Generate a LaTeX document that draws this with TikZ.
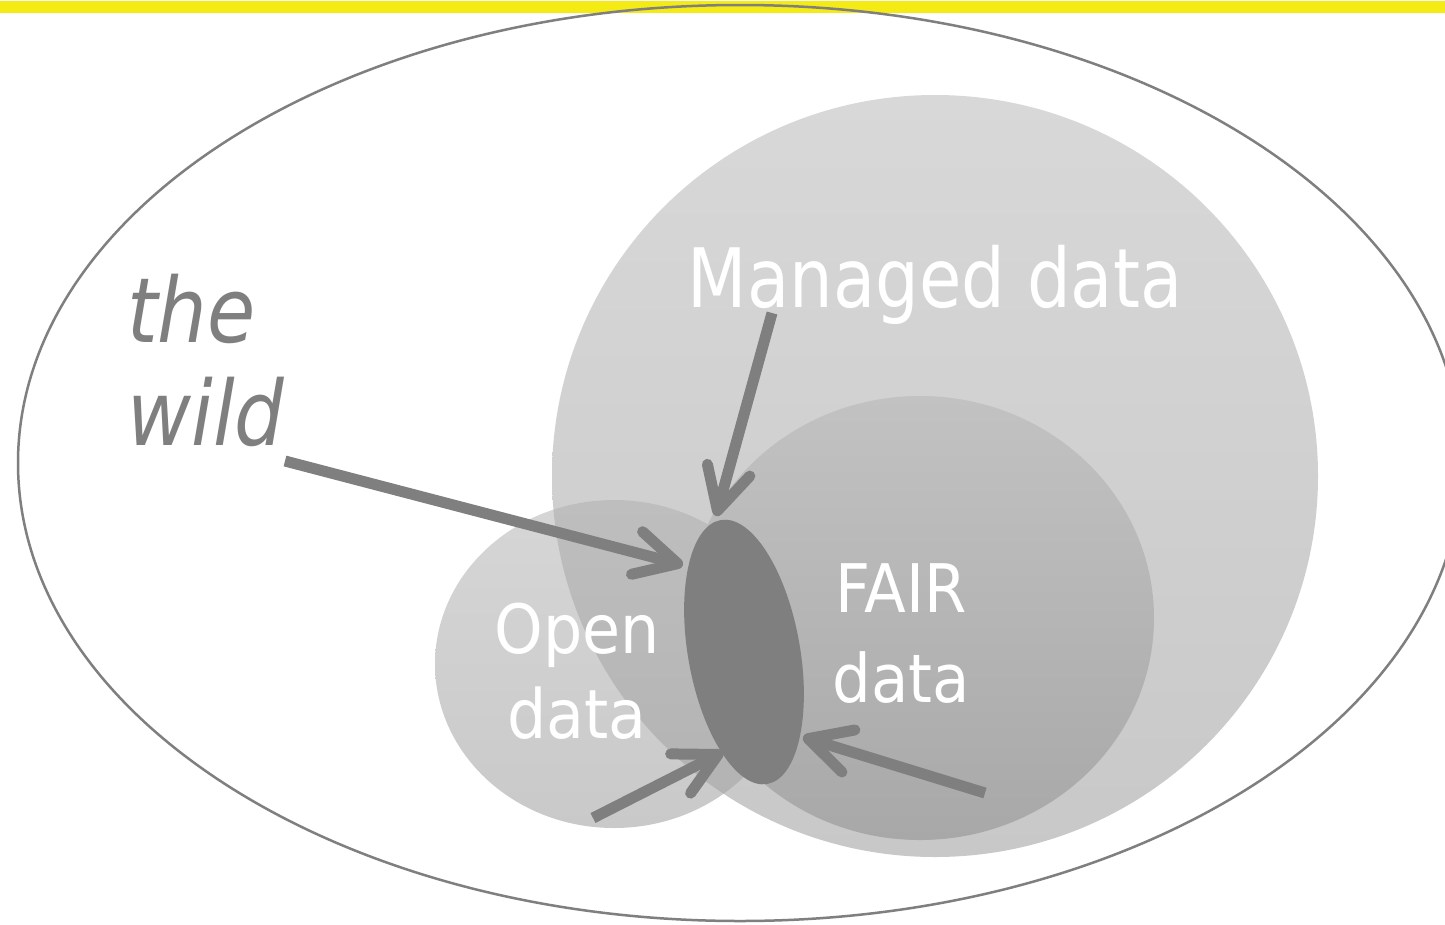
\documentclass[tikz,border=0pt]{standalone}
\usepackage{fontspec}
\usetikzlibrary{arrows.meta,shapes.geometric}
\newfontfamily\bigfont[FakeStretch=0.84]{DejaVu Sans}
\newfontfamily\labfont[FakeStretch=0.91]{DejaVu Sans}
\newfontfamily\wildfont[FakeStretch=0.87]{DejaVu Sans Oblique}
\definecolor{ygold}{RGB}{244,234,20}
\definecolor{gline}{RGB}{127,127,127}
\definecolor{mtop}{RGB}{216,216,216}
\definecolor{mbot}{RGB}{200,200,200}
\definecolor{otop}{RGB}{214,214,214}
\definecolor{obot}{RGB}{201,201,201}
\definecolor{xtop}{RGB}{190,190,190}
\definecolor{xbot}{RGB}{178,178,178}
\definecolor{ftop}{RGB}{194,194,194}
\definecolor{fbot}{RGB}{168,168,168}
\begin{document}
\begin{tikzpicture}[x=1pt,y=-1pt,
  conn/.style={draw=gline, line width=11pt, -{Straight Barb[length=42pt,width=44pt,round]}},
  lab/.style={text=white, inner sep=0pt, align=center},
]
\useasboundingbox (0,0) rectangle (1445,924);
\clip (0,0) rectangle (1445,924);
\fill[white] (0,0) rectangle (1445,924);
\fill[ygold] (0,1) rectangle (1445,13);
\draw[gline, line width=2.5pt] (740,463) ellipse [x radius=722, y radius=458];
% Managed data
\shade[top color=mtop, bottom color=mbot] (935,476) ellipse [x radius=383, y radius=381];
% Open data
\shade[top color=otop, bottom color=obot] (614,664) ellipse [x radius=179, y radius=164];
\begin{scope}
  \clip (935,476) ellipse [x radius=383, y radius=381];
  \shade[top color=xtop, bottom color=xbot] (614,664) ellipse [x radius=179, y radius=164];
\end{scope}
% FAIR data
\shade[top color=ftop, bottom color=fbot] (920,618) ellipse [x radius=234, y radius=222];
% core
\node[ellipse, fill=gline, minimum width=112pt, minimum height=268pt, inner sep=0pt, rotate=10] (core) at (744,652) {};
% labels
\node[lab, font=\bigfont\fontsize{82}{90}\selectfont, anchor=base] (managed) at (935,307) {Managed data};
\node[lab, font=\labfont\fontsize{67}{90}\selectfont, anchor=base] (fair) at (901,702) {FAIR\\data};
\node[lab, font=\labfont\fontsize{68}{85}\selectfont, anchor=base] (open) at (577,738) {Open\\data};
\node[text=gline, inner sep=0pt, align=left, font=\wildfont\fontsize{90}{103}\selectfont, anchor=base west] (wild) at (127,445) {the\\wild};
% connectors
\coordinate (a1s) at (285,461); \coordinate (a1e) at (683,565);
\coordinate (a2s) at (772,313); \coordinate (a2e) at (716,516);
\coordinate (a3s) at (593,818); \coordinate (a3e) at (723,752);
\coordinate (a4s) at (985,793); \coordinate (a4e) at (803,737);
\draw[conn] (a1s) -- (a1e);
\draw[conn] (a2s) -- (a2e);
\draw[conn] (a3s) -- (a3e);
\draw[conn] (a4s) -- (a4e);
\end{tikzpicture}
\end{document}
